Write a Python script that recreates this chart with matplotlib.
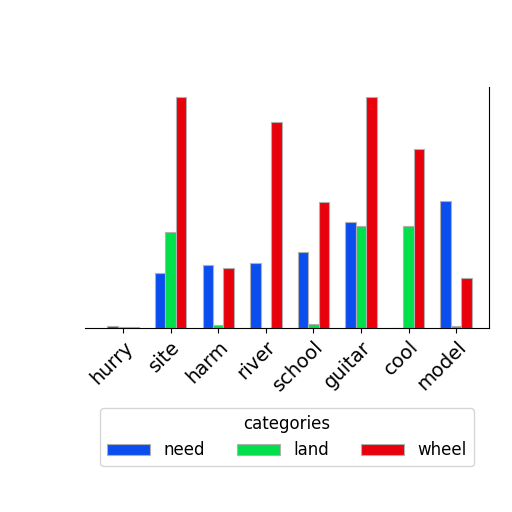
import matplotlib.pyplot as plt
import numpy as np

categories = ['hurry', 'site', 'harm', 'river', 'school', 'guitar', 'cool', 'model']
series = ['need', 'land', 'wheel']
need = [2, 55, 63, 65, 75, 105, 0, 126]
land = [1, 95, 3, 0, 4, 101, 101, 2]
wheel = [1, 230, 60, 205, 125, 230, 178, 50]
colors = ['#0a4ef0', '#00e04a', '#e8000b']

fig = plt.figure(figsize=(5.12, 5.12), dpi=100)
ax = fig.add_axes([0.166, 0.36, 0.789, 0.47])

x = np.arange(len(categories))
w = 0.22
for i, (name, vals) in enumerate(zip(series, [need, land, wheel])):
    ax.bar(x + (i - 1) * w, vals, width=w, color=colors[i], label=name,
           edgecolor='#b0b0b0', linewidth=0.8)

ax.set_xlim(-0.8, 7.69)
ax.set_ylim(0, 240)
ax.set_xticks(x)
ax.set_xticklabels(categories, rotation=45, ha='right', rotation_mode='anchor', fontsize=14)
ax.set_yticks([])
ax.spines['top'].set_visible(False)
ax.spines['left'].set_visible(False)

leg = ax.legend(title='categories', ncol=3, loc='upper center',
                bbox_to_anchor=(0.5, -0.3), fontsize=12, title_fontsize=12,
                handlelength=2.6, columnspacing=1.9)

fig.savefig('out.png', dpi=100)
